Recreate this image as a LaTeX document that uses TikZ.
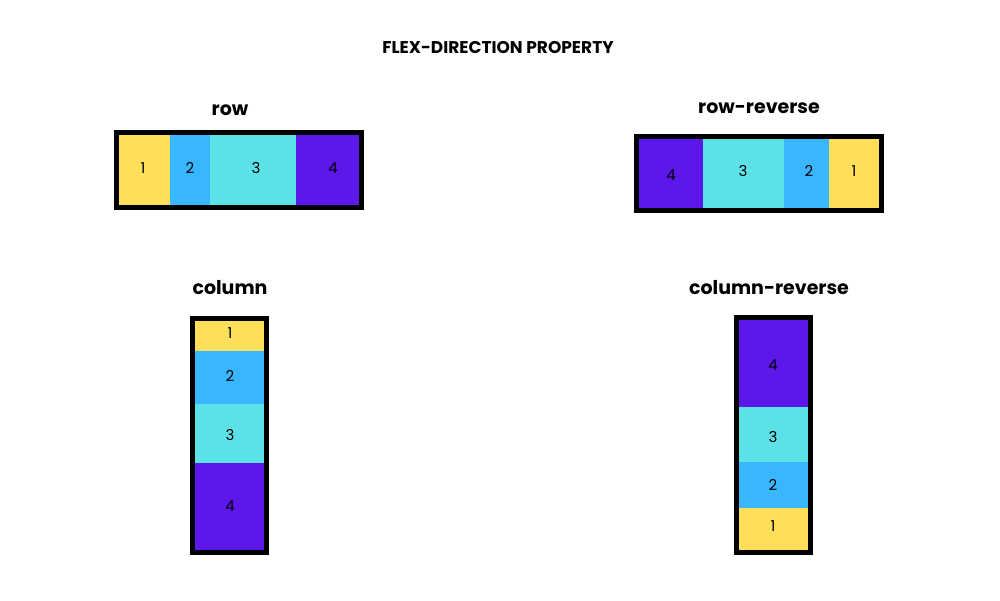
\documentclass[tikz,border=0pt]{standalone}
\usepackage{fontspec}
\setmainfont{Poppins}
\definecolor{cy}{HTML}{FFDE59}
\definecolor{cb}{HTML}{38B6FF}
\definecolor{cc}{HTML}{5CE1E6}
\definecolor{cp}{HTML}{5E17EB}
\begin{document}
\begin{tikzpicture}[x=1pt,y=-1pt,
  cell/.style={inner sep=0pt,font=\fontsize{15}{15}\selectfont},
  frame/.style={draw=black,line width=5pt},
  lbl/.style={font=\fontsize{19}{19}\selectfont\bfseries}]
\useasboundingbox (0,0) rectangle (1000,600);
\newcommand\cellbox[6]{\fill[#5] (#1,#2) rectangle (#3,#4); \node[cell] (#6) at ({(#1+#3)/2},{(#2+#4)/2}) {\ifx#5cp\else\fi};}
% title
\node[font=\fontsize{17}{17}\selectfont\bfseries] (title) at (498,48) {FLEX-DIRECTION PROPERTY};
% row
\node[lbl] (lrow) at (230,110) {row};
\fill[cy] (117,133) rectangle (170,207); \node[cell] (r1) at (143,168) {1};
\fill[cb] (170,133) rectangle (210,207); \node[cell] (r2) at (190,168) {2};
\fill[cc] (210,133) rectangle (296,207); \node[cell] (r3) at (256,168) {3};
\fill[cp] (296,133) rectangle (361,207); \node[cell] (r4) at (333,168) {4};
\draw[frame] (116.5,132.5) rectangle (361.5,207.5);
% row-reverse
\node[lbl] (lrr) at (759,108) {row-reverse};
\fill[cp] (637,137) rectangle (703,211); \node[cell] (q4) at (671,175) {4};
\fill[cc] (703,137) rectangle (784,211); \node[cell] (q3) at (743,171) {3};
\fill[cb] (784,137) rectangle (829,211); \node[cell] (q2) at (809,171) {2};
\fill[cy] (829,137) rectangle (882,211); \node[cell] (q1) at (854,171) {1};
\draw[frame] (636.5,136.5) rectangle (881.5,210.5);
% column
\node[lbl] (lcol) at (230,288) {column};
\fill[cy] (193,319) rectangle (266,351); \node[cell] (c1) at (230,333) {1};
\fill[cb] (193,351) rectangle (266,404); \node[cell] (c2) at (230,376) {2};
\fill[cc] (193,404) rectangle (266,463); \node[cell] (c3) at (230,435) {3};
\fill[cp] (193,463) rectangle (266,552); \node[cell] (c4) at (230,506) {4};
\draw[frame] (192.5,318.5) rectangle (266.5,552.5);
% column-reverse
\node[lbl] (lcr) at (769,288) {column-reverse};
\fill[cp] (737,318) rectangle (810,407); \node[cell] (d4) at (773,365) {4};
\fill[cc] (737,407) rectangle (810,462); \node[cell] (d3) at (773,437) {3};
\fill[cb] (737,462) rectangle (810,508); \node[cell] (d2) at (773,485) {2};
\fill[cy] (737,508) rectangle (810,552); \node[cell] (d1) at (773,526) {1};
\draw[frame] (736.5,317.5) rectangle (810.5,552.5);
\end{tikzpicture}
\end{document}
